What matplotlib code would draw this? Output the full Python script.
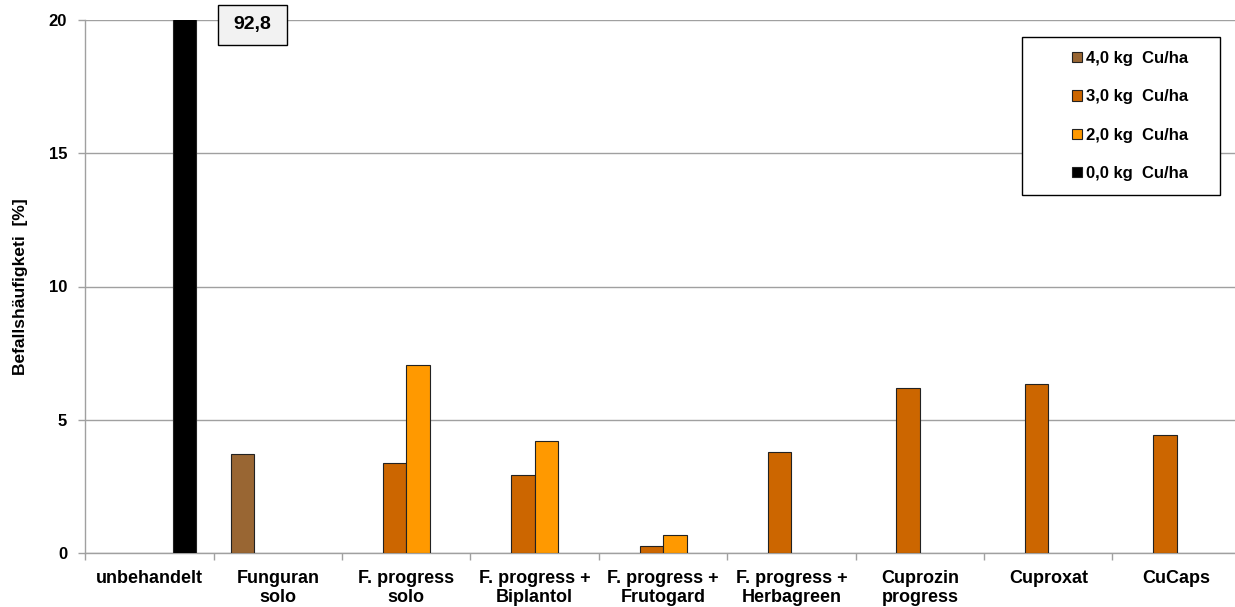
import numpy as np
import matplotlib
matplotlib.use("Agg")
from matplotlib import pyplot as plt
from matplotlib.patches import Rectangle, Patch

# === DATA ===
categories = ["unbehandelt", "Funguran\nsolo", "F. progress\nsolo", "F. progress +\nBiplantol",
              "F. progress +\nFrutogard", "F. progress +\nHerbagreen", "Cuprozin\nprogress",
              "Cuproxat", "CuCaps"]
series_labels = ["4,0 kg  Cu/ha", "3,0 kg  Cu/ha", "2,0 kg  Cu/ha", "0,0 kg  Cu/ha"]
series_colors = ["#996633", "#CC6600", "#FF9900", "#000000"]

# NaN = no bar for this dose in this category
vals_40 = [np.nan, 3.7, np.nan, np.nan, np.nan, np.nan, np.nan, np.nan, np.nan]
vals_30 = [np.nan, np.nan, 3.38, 2.92, 0.26, 3.79, 6.19, 6.34, 4.43]
vals_20 = [np.nan, np.nan, 7.05, 4.2, 0.68, np.nan, np.nan, np.nan, np.nan]
vals_00 = [92.8, np.nan, np.nan, np.nan, np.nan, np.nan, np.nan, np.nan, np.nan]
all_series = [vals_40, vals_30, vals_20, vals_00]

y_ticks = [0, 5, 10, 15, 20]

# === FIGURE ===
plt.rcParams['font.family'] = ['Liberation Sans', 'DejaVu Sans']
plt.rcParams['font.weight'] = 'bold'

fig = plt.figure(figsize=(12.35, 6.07), dpi=100)
ax = fig.add_axes([85.3 / 1235, 1 - 553 / 607, 1155.6 / 1235, 533 / 607])

x = np.arange(len(categories))
w = 0.183
grid_col = "#a0a0a0"

for i, (vals, col) in enumerate(zip(all_series, series_colors)):
    ax.bar(x + (i - 1.5) * w, vals, width=w, color=col, edgecolor="#222222",
           linewidth=0.8, zorder=3)

ax.set_xlim(-0.5, len(categories) - 0.5)
ax.set_ylim(0, 20)
ax.set_yticks(y_ticks)
ax.set_yticklabels([str(t) for t in y_ticks], fontsize=12, fontweight='bold')
ax.yaxis.grid(True, color=grid_col, linewidth=1.0, zorder=0)
ax.set_axisbelow(True)

ax.set_xticks(x)
ax.set_xticklabels(categories, fontsize=13, fontweight='bold', linespacing=1.2)
ax.set_xticks(np.arange(len(categories) + 1) - 0.5, minor=True)
ax.tick_params(axis='x', which='major', length=0, pad=12)
ax.tick_params(axis='x', which='minor', length=5, color=grid_col, width=1)
ax.tick_params(axis='y', length=5, color=grid_col, width=1, pad=8)

for s in ['top', 'right']:
    ax.spines[s].set_visible(False)
for s in ['left', 'bottom']:
    ax.spines[s].set_color(grid_col)
    ax.spines[s].set_linewidth(1.0)

ax.set_ylabel("Befallshäufigketi  [%]", fontsize=12.5, fontweight='bold')
ax.yaxis.set_label_coords(-0.0496, 0.5)

# value label of the clipped bar
fig.add_artist(Rectangle((218 / 1235, 1 - 45 / 607), 69 / 1235, 40 / 607,
                         transform=fig.transFigure, facecolor="#f2f2f2",
                         edgecolor="black", linewidth=1.0))
fig.text(252.5 / 1235, 1 - 25 / 607, f"{vals_00[0]:.1f}".replace(".", ","),
         ha='center', va='center', fontsize=14, fontweight='bold')

# legend
fig.add_artist(Rectangle((1022 / 1235, 1 - 195 / 607), 198 / 1235, 158 / 607,
                         transform=fig.transFigure, facecolor="white",
                         edgecolor="black", linewidth=1.0, zorder=5))
handles = [Patch(facecolor=c, edgecolor="#222222", linewidth=0.8) for c in series_colors]
leg = fig.legend(handles, series_labels, loc='center', bbox_to_anchor=(1130 / 1235, 1 - 116 / 607),
                 frameon=False, handlelength=0.6, handleheight=0.6,
                 handletextpad=0.25, labelspacing=1.4, prop={'weight': 'bold', 'size': 12})
leg.set_zorder(6)

plt.savefig("out.png", dpi=100)
